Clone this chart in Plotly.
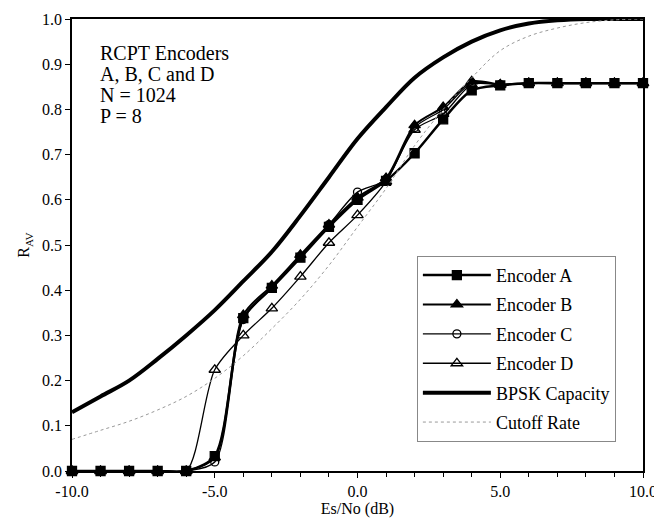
import plotly.graph_objects as go

# Es/No in dB, one point per dB
es_no = [-10, -9, -8, -7, -6, -5, -4, -3, -2, -1, 0, 1, 2, 3, 4, 5, 6, 7, 8, 9, 10]

enc_a = [0, 0, 0, 0, 0, 0.033, 0.338, 0.405, 0.472, 0.54, 0.60, 0.642, 0.703, 0.778, 0.842, 0.853, 0.858, 0.858, 0.858, 0.858, 0.858]
enc_b = [0, 0, 0, 0, 0, 0.030, 0.345, 0.410, 0.478, 0.545, 0.605, 0.648, 0.765, 0.805, 0.862, 0.855, 0.858, 0.858, 0.858, 0.858, 0.858]
enc_c = [0, 0, 0, 0, 0, 0.020, 0.335, 0.405, 0.475, 0.545, 0.617, 0.645, 0.760, 0.800, 0.858, 0.855, 0.858, 0.858, 0.858, 0.858, 0.858]
enc_d = [0, 0, 0, 0, 0, 0.224, 0.300, 0.360, 0.430, 0.505, 0.566, 0.640, 0.755, 0.790, 0.855, 0.855, 0.858, 0.858, 0.858, 0.858, 0.858]

bpsk_cap = [0.13, 0.165, 0.20, 0.248, 0.30, 0.356, 0.42, 0.485, 0.565, 0.65, 0.735, 0.805, 0.87, 0.915, 0.95, 0.975, 0.99, 0.997, 1.0, 1.0, 1.0]
cutoff = [0.07, 0.09, 0.11, 0.135, 0.165, 0.205, 0.255, 0.315, 0.38, 0.455, 0.54, 0.625, 0.72, 0.80, 0.87, 0.93, 0.962, 0.98, 0.992, 0.998, 1.0]

info_lines = ["RCPT Encoders", "A, B, C and D", "N = 1024", "P = 8"]

serif = "Liberation Serif"

fig = go.Figure()

encoders = [
    ("Encoder A", enc_a, "square", "black", 2.5, 9),
    ("Encoder B", enc_b, "triangle-up", "black", 2, 10),
    ("Encoder C", enc_c, "circle-open", "black", 1.3, 8),
    ("Encoder D", enc_d, "triangle-up-open", "black", 1.3, 10),
]
for name, vals, sym, col, lw, ms in encoders:
    fig.add_trace(go.Scatter(
        x=es_no, y=vals, name=name, mode="lines+markers",
        line=dict(color=col, width=lw, shape="spline", smoothing=0.8),
        marker=dict(symbol=sym, size=ms, color=col, line=dict(color=col, width=1.3)),
        cliponaxis=False, legendgroup=name,
    ))

fig.add_trace(go.Scatter(
    x=es_no, y=bpsk_cap, name="BPSK Capacity", mode="lines",
    line=dict(color="black", width=4, shape="spline"),
    legendgroup="bpsk",
))
fig.add_trace(go.Scatter(
    x=es_no, y=cutoff, name="Cutoff Rate", mode="lines",
    line=dict(color="#999999", width=1, dash="dot", shape="spline"),
    legendgroup="cutoff",
))

# text block, one annotation per line to keep the tight line spacing
for i, txt in enumerate(info_lines):
    fig.add_annotation(
        x=0.046, y=0.925 - i * 0.0465, xref="paper", yref="paper",
        xanchor="left", yanchor="middle", text=txt, showarrow=False,
        font=dict(family=serif, size=20, color="black"),
    )

fig.update_xaxes(
    range=[-10, 10], tickvals=[-10, -5, 0, 5, 10],
    ticktext=["-10.0", "-5.0", "0.0", "5.0", "10.0"],
    ticks="outside", ticklen=5, tickcolor="black",
    minor=dict(dtick=1, ticks="outside", ticklen=4, tickcolor="black"),
    showline=True, linecolor="black", linewidth=1.5, mirror=True,
    showgrid=False, zeroline=False, automargin=False,
    title=dict(text="Es/No (dB)", standoff=1, font=dict(family=serif, size=16)),
    tickfont=dict(family=serif, size=16, color="black"),
)
fig.update_yaxes(
    range=[0, 1], dtick=0.1, tickformat=".1f",
    ticks="outside", ticklen=5, tickcolor="black",
    showline=True, linecolor="black", linewidth=1.5, mirror=True,
    showgrid=False, zeroline=False, automargin=False,
    title=dict(text="R<sub>AV</sub>", standoff=8, font=dict(family=serif, size=16)),
    tickfont=dict(family=serif, size=16, color="black"),
)

# page body adds an 8px offset, so the margins are shifted to compensate
fig.update_layout(
    width=662, height=519,
    margin=dict(l=64, r=27, t=11, b=56),
    plot_bgcolor="white", paper_bgcolor="white",
    font=dict(family=serif, color="black"),
    legend=dict(
        x=0.604, y=0.476, xanchor="left", yanchor="top",
        bordercolor="#888888", borderwidth=1, bgcolor="white",
        font=dict(family=serif, size=18, color="black"),
        tracegroupgap=3, itemwidth=68,
    ),
)

fig.write_html("out.html")
